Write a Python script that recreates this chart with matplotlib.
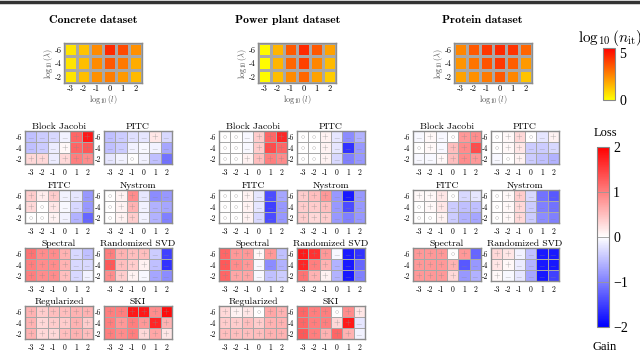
import numpy as np
import matplotlib
matplotlib.use("Agg")
import matplotlib.pyplot as plt
from matplotlib.lines import Line2D
from matplotlib.colors import Normalize
from matplotlib.cm import ScalarMappable

plt.rcParams['mathtext.fontset'] = 'cm'
plt.rcParams['axes.unicode_minus'] = False

L_TICKS = ['-3', '-2', '-1', '0', '1', '2']
LAM_TICKS = ['-6', '-4', '-2']

# log10 of iteration count (rows: lambda = -6, -4, -2)
iters = {
    'Concrete dataset': [[0.6, 1.3, 2.5, 4.6, 3.9, 2.4],
                         [0.6, 1.4, 2.5, 3.6, 2.9, 1.8],
                         [0.6, 1.4, 2.4, 2.8, 2.2, 1.5]],
    'Power plant dataset': [[0.1, 1.6, 3.6, 4.6, 3.6, 2.0],
                            [0.1, 1.6, 3.3, 4.1, 2.6, 1.5],
                            [0.1, 1.4, 2.5, 3.3, 2.0, 1.1]],
    'Protein dataset': [[2.6, 3.6, 4.3, 4.6, 4.4, 3.3],
                        [2.3, 3.0, 3.7, 4.3, 3.5, 2.2],
                        [2.0, 2.4, 2.9, 3.6, 2.6, 1.3]],
}

# relative loss / gain of each preconditioner (0 = no change)
concrete = {
    'Block Jacobi': [[-0.5, -0.4, -0.3, -0.1, 1.2, 1.8],
                     [-0.5, -0.4, -0.15, 0.05, 1.2, 1.3],
                     [0.3, 0.3, -0.15, 0.3, 1.0, 0.9]],
    'PITC': [[-0.5, -0.4, -0.25, -0.2, 0.2, -0.3],
             [-0.5, -0.4, -0.1, -0.05, -0.1, -0.7],
             [-0.2, -0.1, 0.0, -0.1, -0.5, -1.1]],
    'FITC': [[0.4, 0.15, 0.4, -0.1, -0.2, -0.8],
             [0.3, 0.0, 0.2, -0.05, -0.3, -0.8],
             [0.0, 0.0, 0.1, -0.1, -0.6, -1.2]],
    'Nystrom': [[0.0, 0.1, 0.9, -0.2, -0.9, -0.8],
                [0.0, 0.1, 0.6, -0.1, -0.6, -0.7],
                [0.0, 0.1, 0.4, -0.1, -0.6, -1.0]],
    'Spectral': [[1.1, 0.9, 0.9, 0.6, -0.3, -0.5],
                 [1.0, 0.9, 0.9, 0.6, -0.3, -0.3],
                 [1.0, 0.9, 0.9, 0.5, -0.3, -0.1]],
    'Randomized SVD': [[1.0, 0.6, 0.5, 0.5, -0.4, -1.5],
                       [1.3, 0.5, 0.4, 0.1, -0.5, -1.6],
                       [0.9, 0.4, 0.1, -0.05, -0.7, -0.9]],
    'Regularized': [[0.6, 0.4, 0.5, 0.5, 0.6, 0.6],
                    [0.6, 0.3, 0.4, 0.4, 0.6, 0.4],
                    [0.6, 0.3, 0.3, 0.5, 0.6, 0.5]],
    'SKI': [[1.0, 1.0, 1.8, 1.8, 0.9, 1.9],
            [1.0, 0.8, 1.0, 0.8, 1.7, 0.6],
            [1.0, 0.9, 1.0, 0.3, 0.7, 0.2]],
}
power = {
    'Block Jacobi': [[0.0, 0.0, -0.05, 0.4, 1.2, 1.7],
                     [0.0, 0.0, -0.05, 0.4, 1.4, 1.2],
                     [0.0, 0.0, 0.1, 0.5, 1.0, 0.9]],
    'PITC': [[0.0, 0.0, 0.1, -0.2, -0.9, -0.6],
             [0.0, 0.0, 0.1, -0.2, -1.6, -0.8],
             [0.0, 0.0, 0.1, -0.3, -1.0, -0.8]],
    'FITC': [[0.0, 0.0, 0.1, -0.2, -1.4, -0.7],
             [0.0, 0.0, 0.1, -0.2, -1.5, -0.8],
             [0.0, 0.0, 0.1, -0.3, -1.4, -0.8]],
    'Nystrom': [[0.4, 0.5, 0.8, -0.8, -1.8, -0.8],
                [0.4, 0.4, 0.5, -0.8, -1.4, -0.8],
                [0.4, 0.3, 0.4, -0.8, -1.0, -0.8]],
    'Spectral': [[1.2, 0.8, 0.8, 0.05, 0.8, -0.5],
                 [1.3, 0.9, 0.8, -0.05, -0.9, -0.6],
                 [1.2, 0.7, 0.7, -0.05, -0.5, -0.4]],
    'Randomized SVD': [[1.8, 1.6, 0.8, -0.05, -1.8, -1.6],
                       [1.7, 1.0, 0.6, -0.6, -1.8, -1.2],
                       [1.1, 0.6, 0.1, -0.6, -1.8, -1.0]],
    'Regularized': [[0.3, 0.1, 0.2, 0.0, 0.7, 0.6],
                    [0.4, 0.4, 0.5, 0.4, 0.6, 0.6],
                    [0.5, 0.5, 0.5, 0.5, 0.6, 0.6]],
    'SKI': [[1.2, 1.0, 1.0, 0.0, 0.9, 0.2],
            [1.2, 1.0, 1.0, 0.3, 1.8, -0.2],
            [1.3, 1.0, 0.6, 1.2, 0.6, -0.1]],
}
protein = {
    'Block Jacobi': [[-0.05, 0.05, -0.05, 0.0, 0.8, 0.9],
                     [0.0, 0.05, -0.05, 0.5, 0.9, 1.4],
                     [-0.05, -0.05, 0.05, 0.5, 0.9, 0.8]],
    'PITC': [[0.0, 0.05, 0.3, 0.0, -0.2, 0.1],
             [0.0, 0.05, 0.2, -0.4, -0.4, -0.3],
             [-0.05, 0.0, 0.1, -0.4, -0.5, -0.6]],
    'FITC': [[0.05, 0.05, 0.2, 0.0, -0.3, -0.2],
             [0.0, 0.05, 0.2, -0.4, -0.5, -0.5],
             [0.0, 0.0, 0.1, -0.4, -0.6, -0.7]],
    'Nystrom': [[0.0, 0.05, 0.4, -0.3, -1.1, -1.3],
                [0.0, 0.05, 0.3, -0.4, -1.0, -1.1],
                [0.0, 0.05, 0.3, -0.4, -0.9, -1.0]],
    'Spectral': [[0.8, 0.8, 0.8, 0.0, 0.8, -1.2],
                 [0.8, 0.8, 0.8, 0.6, -1.3, -0.8],
                 [0.8, 0.8, 0.8, 0.3, -0.8, -0.6]],
    'Randomized SVD': [[0.3, 0.2, -0.1, -0.5, -1.8, -1.8],
                       [0.2, 0.05, -0.15, -0.6, -1.8, -1.8],
                       [0.05, -0.05, -0.2, -0.7, -1.8, -1.5]],
}

W, H = 640, 353
fig = plt.figure(figsize=(W / 100, H / 100), dpi=100)
EDGE = '#a8a8a8'


def px_axes(x0, y0, x1, y1):
    return fig.add_axes([x0 / W, 1 - y1 / H, (x1 - x0) / W, (y1 - y0) / H])


def px_text(x, y, s, **kw):
    fig.text(x / W, 1 - y / H, s, ha='center', va='center', **kw)


def style_grid(ax, xpad, ypad, size):
    ax.set_xlim(0, 6)
    ax.set_ylim(3, 0)
    ax.set_xticks(np.arange(6) + 0.5)
    ax.set_xticklabels(L_TICKS, family='cmr10', fontsize=size)
    ax.set_yticks(np.arange(3) + 0.5)
    ax.set_yticklabels(LAM_TICKS, family='cmr10', fontsize=size)
    ax.tick_params(length=0)
    ax.tick_params(axis='x', pad=xpad)
    ax.tick_params(axis='y', pad=ypad)
    for sp in ax.spines.values():
        sp.set_color('#8c8c8c')
        sp.set_linewidth(1.0)


def draw_small(ax, vals, title):
    vals = np.array(vals)
    ax.pcolormesh(np.arange(7), np.arange(4), vals, cmap='bwr', vmin=-2, vmax=2,
                  edgecolor=EDGE, linewidth=0.6)
    for i in range(3):
        for j in range(6):
            v = vals[i, j]
            mark = r'$+$' if v > 0 else (r'$-$' if v < 0 else r'$\circ$')
            ax.text(j + 0.5, i + 0.5, mark, ha='center', va='center',
                    fontsize=6, color='#8a8a8a', alpha=0.85)
    style_grid(ax, 3, 2, 5.5)
    ax.set_title(title, family='cmr10', fontsize=7, pad=1.5)


def draw_top(ax, vals):
    ax.pcolormesh(np.arange(7), np.arange(4), np.array(vals), cmap='autumn_r',
                  vmin=0, vmax=5.5, edgecolor=EDGE, linewidth=0.8)
    style_grid(ax, 1.5, 1.5, 6)
    ax.set_xlabel(r'$\log_{10}(l)$', fontsize=6, color='#555555', labelpad=0)
    ax.set_ylabel(r'$\log_{10}(\lambda)$', fontsize=6, color='#555555', labelpad=0)


# top row: iteration counts
top_x = {'Concrete dataset': 64, 'Power plant dataset': 258, 'Protein dataset': 454}
title_x = {'Concrete dataset': 93, 'Power plant dataset': 288, 'Protein dataset': 482}
for name, vals in iters.items():
    ax = px_axes(top_x[name], 43, top_x[name] + 78, 83)
    draw_top(ax, vals)
    px_text(title_x[name], 20, name, family='cmb10', fontsize=8.5)

# small grids of preconditioner comparisons
row_tops = [131, 190, 248, 306]
groups = [(concrete, 25, 104), (power, 219, 297), (protein, 413, 491)]
for data, left_x, right_x in groups:
    for k, (title, vals) in enumerate(data.items()):
        r, c = divmod(k, 2)
        x0 = left_x if c == 0 else right_x
        y0 = row_tops[r]
        ax = px_axes(x0, y0, x0 + 68, y0 + 33)
        draw_small(ax, vals, title)

# iteration colorbar
cax = px_axes(603, 48, 615, 100)
cb = fig.colorbar(ScalarMappable(Normalize(0, 5.5), 'autumn_r'), cax=cax, ticks=[0, 5])
cb.outline.set_edgecolor('#888888')
cb.ax.tick_params(length=0, pad=3)
cb.ax.set_yticklabels(['0', '5'], family='Liberation Serif', fontsize=10)
px_text(610, 38, r'$\log_{10}(n_{\mathrm{it}})$', fontsize=11)

# loss / gain colorbar
cax2 = px_axes(597, 147, 609, 327)
cb2 = fig.colorbar(ScalarMappable(Normalize(-2, 2), 'bwr'), cax=cax2, ticks=[-2, -1, 0, 1, 2])
cb2.outline.set_edgecolor('#888888')
cb2.ax.tick_params(length=0, pad=3)
cb2.ax.set_yticklabels(['\u22122', '\u22121', '0', '1', '2'], family='Liberation Serif', fontsize=10)
for t in [-1, 0, 1]:
    cb2.ax.axhline(t, color='#999999', linewidth=0.6)
px_text(605, 133, 'Loss', family='Liberation Serif', fontsize=9)
px_text(605, 347, 'Gain', family='Liberation Serif', fontsize=9)

# rule at the top of the page crop
fig.add_artist(Line2D([0, 1], [1 - 1.5 / H, 1 - 1.5 / H], color='#333333', linewidth=2.5))

fig.savefig('out.png', dpi=100)
